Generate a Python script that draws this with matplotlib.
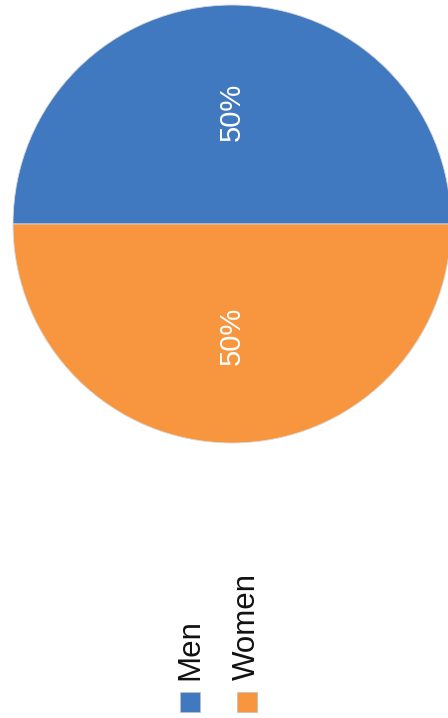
import matplotlib.pyplot as plt
from matplotlib.patches import Rectangle

labels = ['Men', 'Women']
shares = [50, 50]
colors = ['#4179C0', '#F7963F']

plt.rcParams['font.family'] = ['Liberation Sans', 'DejaVu Sans']

fig = plt.figure(figsize=(4.48, 7.18), dpi=100)
W, H = 448, 718

# pie centre (232, 224) px, radius 219 px
cx, cy, r = 232, 224, 219
ax = fig.add_axes([(cx - r) / W, 1 - (cy + r) / H, 2 * r / W, 2 * r / H])
wedges, texts, autotexts = ax.pie(shares, colors=colors, startangle=0, counterclock=True,
                                  autopct='%1.0f%%', pctdistance=0.51,
                                  wedgeprops=dict(edgecolor='#d9d9d9', linewidth=0.6),
                                  textprops=dict(color='white', fontsize=21))
for t in autotexts:
    t.set_rotation(90)
    t.set_va('center')
    t.set_ha('center')
ax.set_xlim(-1, 1)
ax.set_ylim(-1, 1)
ax.set_aspect('equal')

# legend, rotated like the rest of the chart
xs = [190, 247]
for lab, col, x in zip(labels, colors, xs):
    fig.add_artist(Rectangle(((x - 10) / W, 1 - 712 / H), 20 / W, 20 / H,
                             transform=fig.transFigure, facecolor=col,
                             edgecolor='#bfbfbf', linewidth=0.5))
    fig.text(x / W, 1 - 680 / H, lab, rotation=90, ha='center', va='bottom',
             fontsize=22.5, color='#111111')

fig.savefig('out.png', dpi=100)
